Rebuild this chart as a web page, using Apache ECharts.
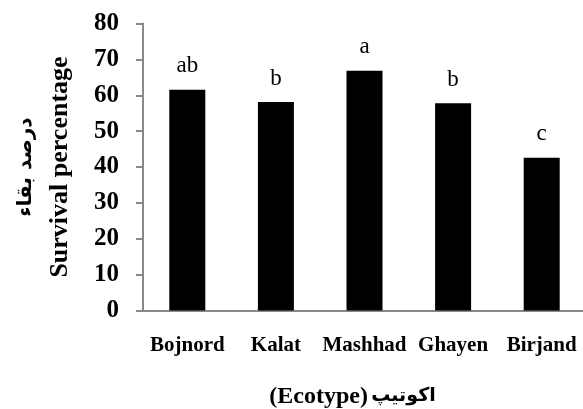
<!DOCTYPE html>
<html>
<head>
<meta charset="utf-8">
<script src="https://cdn.jsdelivr.net/npm/echarts@6/dist/echarts.min.js"></script>
<style>
  html, body { margin: 0; padding: 0; background: #fff; }
  #chart { width: 583px; height: 409px; }
</style>
</head>
<body>
<div id="chart"></div>
<script>
// ecotypes and their survival percentage
const ecotypes = ['Bojnord', 'Kalat', 'Mashhad', 'Ghayen', 'Birjand'];
const survival = [61.5, 58.1, 66.8, 57.8, 42.6];
const groups = ['ab', 'b', 'a', 'b', 'c'];

const serif = "'Liberation Serif', 'Times New Roman', serif";
const arabic = "'DejaVu Sans', sans-serif";
const axisGray = '#898989';

const chart = echarts.init(document.getElementById('chart'));

const option = {
  animation: false,
  backgroundColor: '#fff',
  grid: {
    left: 143,
    top: 23.5,
    bottom: 98.5,
    width: 443,
    outerBoundsMode: 'none'
  },
  xAxis: {
    type: 'category',
    data: ecotypes,
    axisLine: { lineStyle: { color: axisGray, width: 2 } },
    axisTick: { show: false },
    axisLabel: {
      interval: 0,
      margin: 25,
      color: '#000',
      fontFamily: serif,
      fontWeight: 'bold',
      fontSize: 21
    },
    name: '{en|(Ecotype)} {fa|اکوتیپ}',
    nameLocation: 'middle',
    nameGap: 74,
    nameTextStyle: {
      padding: [0, 24, 0, 0],
      rich: {
        en: { color: '#000', fontFamily: serif, fontWeight: 'bold', fontSize: 24 },
        fa: { color: '#000', fontFamily: arabic, fontWeight: 'bold', fontSize: 19 }
      }
    }
  },
  yAxis: {
    type: 'value',
    min: 0,
    max: 80,
    interval: 10,
    splitLine: { show: false },
    axisLine: { show: true, lineStyle: { color: axisGray, width: 2 } },
    axisTick: { show: true, length: 7, lineStyle: { color: axisGray, width: 2 } },
    axisLabel: {
      margin: 24,
      color: '#000',
      fontFamily: serif,
      fontWeight: 'bold',
      fontSize: 25
    },
    name: '{fa|درصد بقاء}\n{en|Survival percentage}',
    nameLocation: 'middle',
    nameRotate: 90,
    nameGap: 68,
    nameTextStyle: {
      rich: {
        fa: {
          fontFamily: arabic,
          fontWeight: 'bold',
          fontSize: 20,
          lineHeight: 38,
          color: '#000'
        },
        en: {
          fontFamily: serif,
          fontWeight: 'bold',
          fontSize: 26,
          lineHeight: 30,
          color: '#000'
        }
      }
    }
  },
  series: [
    {
      type: 'bar',
      data: survival,
      barWidth: 36,
      itemStyle: { color: '#000' },
      label: {
        show: true,
        position: 'top',
        distance: 12,
        color: '#000',
        fontFamily: serif,
        fontSize: 23,
        formatter: function (p) {
          return groups[p.dataIndex];
        }
      }
    }
  ]
};

chart.setOption(option);
</script>
</body>
</html>
